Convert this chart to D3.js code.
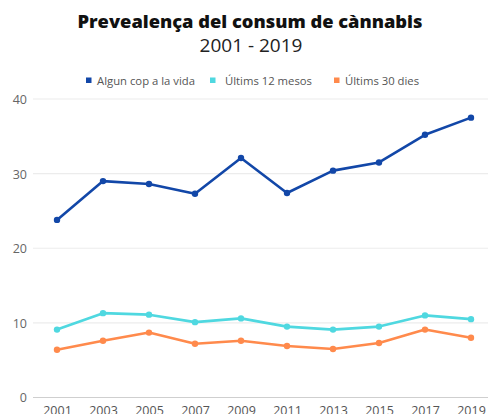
<!DOCTYPE html>
<html><head><meta charset="utf-8">
<script src="https://cdn.jsdelivr.net/npm/d3@7"></script>
<style>html,body{margin:0;padding:0;background:#fff;overflow:hidden}</style>
</head><body>
<svg id="c" width="488" height="414"></svg>
<script>
const years = ["2001","2003","2005","2007","2009","2011","2013","2015","2017","2019"];
const seriesNames = ["Algun cop a la vida","Últims 12 mesos","Últims 30 dies"];
const algunCop = [23.8,29.0,28.6,27.3,32.1,27.4,30.4,31.5,35.2,37.5];
const ultims12 = [9.1,11.3,11.1,10.1,10.6,9.5,9.1,9.5,11.0,10.5];
const ultims30 = [6.4,7.6,8.7,7.2,7.6,6.9,6.5,7.3,9.1,8.0];
const yTicks = [0,10,20,30,40];
const colors = ["#1247a8","#4fd8e0","#ff8a4c"];
const series = [algunCop, ultims12, ultims30];

const svg = d3.select("#c");
const font = "'Open Sans', sans-serif";
const x = d3.scalePoint().domain(years).range([57, 471]);
const y = d3.scaleLinear().domain([0,40]).range([397.5, 99]);

// title
svg.append("text").attr("x",250).attr("y",28).attr("text-anchor","middle")
  .attr("font-family",font).attr("font-weight",800).attr("font-size",18.3).attr("fill","#111")
  .text("Prevealença del consum de cànnabis");
svg.append("text").attr("x",251).attr("y",52).attr("text-anchor","middle")
  .attr("font-family",font).attr("font-size",19).attr("fill","#222")
  .text("2001 - 2019");

// legend
const legX = [86, 210, 334];
const legTextX = [97, 225, 345];
seriesNames.forEach((n,i)=>{
  svg.append("rect").attr("x",legX[i]).attr("y",77.5).attr("width",5.5).attr("height",5.5).attr("fill",colors[i]);
  svg.append("text").attr("x",legTextX[i]).attr("y",84.5).attr("font-family",font).attr("font-size",11.3)
    .attr("fill","#555").text(n);
});

// grid
const yAxis = d3.axisLeft(y).tickValues(yTicks).tickSize(0).tickPadding(0);
const gy = svg.append("g").attr("transform","translate(27,0)").call(yAxis);
gy.select(".domain").remove();
gy.selectAll("text").attr("font-family",font).attr("font-size",12.5).attr("fill","#666").attr("dy","0.35em");
svg.append("g").selectAll("line").data(yTicks).join("line")
  .attr("x1",33).attr("x2",488).attr("y1",d=>y(d)).attr("y2",d=>y(d))
  .attr("stroke",d=>d===0?"#cfcfcf":"#ececec").attr("stroke-width",1.2);

// x axis
const xAxis = d3.axisBottom(x).tickSize(0).tickPadding(0);
const gx = svg.append("g").attr("transform","translate(0,406)").call(xAxis);
gx.select(".domain").remove();
gx.selectAll("text").attr("font-family",font).attr("font-size",12.5).attr("fill","#555").attr("dy","0.71em");

// lines
const line = d3.line().x((d,i)=>x(years[i])).y(d=>y(d));
series.forEach((s,i)=>{
  svg.append("path").datum(s).attr("d",line).attr("fill","none").attr("stroke",colors[i])
    .attr("stroke-width",2.6).attr("stroke-linejoin","round");
  svg.append("g").selectAll("circle").data(s).join("circle")
    .attr("cx",(d,j)=>x(years[j])).attr("cy",d=>y(d)).attr("r",3.2).attr("fill",colors[i]);
});
</script>
</body></html>
